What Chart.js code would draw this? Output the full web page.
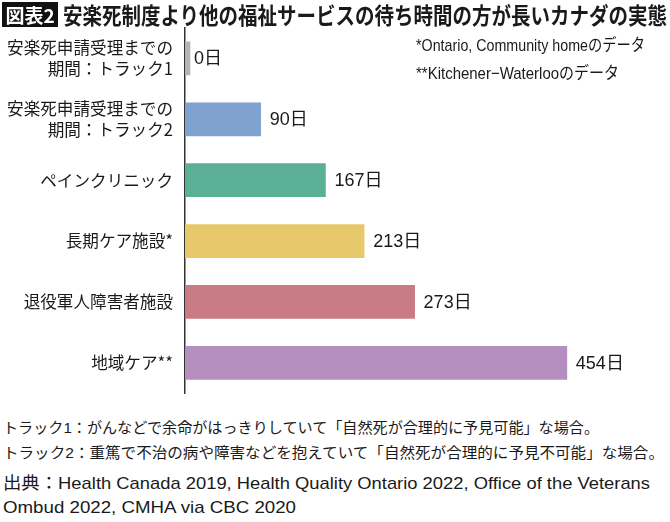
<!DOCTYPE html>
<html lang="ja">
<head>
<meta charset="utf-8">
<script src="https://cdn.jsdelivr.net/npm/chart.js@4.4.1/dist/chart.umd.min.js"></script>
<style>
  html, body { margin: 0; padding: 0; background: #fff; }
  #page { position: relative; width: 670px; height: 522px; overflow: hidden; color: #1a1a1a;
          font-family: "Liberation Sans Narrow", "Liberation Sans", "Noto Sans CJK JP", sans-serif; }
  #chart { position: absolute; left: 0; top: 0; }
  .t { position: absolute; white-space: nowrap; display: inline-block; transform-origin: 0 50%; line-height: 1; }
  #badge { position: absolute; left: 2px; top: 2px; width: 56px; height: 25px; background: #111; color: #fff;
           font-family: "Noto Sans CJK JP", sans-serif; font-weight: 700; font-size: 19px; line-height: 25px; text-align: center; }
  #title { left: 63px; top: 3px; font-family: "Noto Sans CJK JP", sans-serif; font-weight: 700; font-size: 23px; }
  .note { font-size: 17px; }
  .foot { font-size: 15px; }
  .src { font-size: 17px; }
</style>
</head>
<body>
<div id="page">
  <canvas id="chart" width="670" height="418"></canvas>
  <div id="badge">図表2</div>
  <div class="t" id="title" data-w="604">安楽死制度より他の福祉サービスの待ち時間の方が長いカナダの実態</div>
  <div class="t note" style="left:416px;top:37px" data-w="229">*Ontario, Community homeのデータ</div>
  <div class="t note" style="left:416px;top:65px" data-w="203">**Kitchener−Waterlooのデータ</div>
  <div class="t foot" style="left:3px;top:420px" data-w="596">トラック1：がんなどで余命がはっきりしていて「自然死が合理的に予見可能」な場合。</div>
  <div class="t foot" style="left:3px;top:445px" data-w="661">トラック2：重篤で不治の病や障害などを抱えていて「自然死が合理的に予見不可能」な場合。</div>
  <div class="t src" style="left:3px;top:475px" data-w="647">出典：Health Canada 2019, Health Quality Ontario 2022, Office of the Veterans</div>
  <div class="t src" style="left:3px;top:499px" data-w="293">Ombud 2022, CMHA via CBC 2020</div>
</div>
<script>
const categories = [
  ['安楽死申請受理までの', '期間：トラック1'],
  ['安楽死申請受理までの', '期間：トラック2'],
  'ペインクリニック',
  '長期ケア施設*',
  '退役軍人障害者施設',
  '地域ケア**'
];
const waitDays = [0, 90, 167, 213, 273, 454];
const valueSuffix = '日';
const barColors = ['#b5b5b5', '#7fa2cf', '#5caf97', '#e7c96b', '#c87a85', '#b38ebf'];

// fit condensed html text to the widths
document.querySelectorAll('[data-w]').forEach(function (el) {
  const w = el.getBoundingClientRect().width;
  el.style.transform = 'scaleX(' + (parseFloat(el.dataset.w) / w) + ')';
});

const valueLabels = {
  id: 'valueLabels',
  afterDatasetsDraw(chart) {
    const c = chart.ctx;
    const xs = chart.scales.x;
    const meta = chart.getDatasetMeta(0);
    c.save();
    c.font = '18px "Liberation Sans Narrow", "Liberation Sans", "Noto Sans CJK JP", sans-serif';
    c.fillStyle = '#1a1a1a';
    c.textBaseline = 'middle';
    meta.data.forEach(function (bar, i) {
      const v = chart.data.datasets[0].data[i];
      c.fillText(v + valueSuffix, xs.getPixelForValue(v) + 9, bar.y + 1);
    });
    c.restore();
  }
};

new Chart(document.getElementById('chart'), {
  type: 'bar',
  data: {
    labels: categories,
    datasets: [{
      data: waitDays,
      backgroundColor: barColors,
      borderWidth: 0,
      minBarLength: 5,
      barThickness: 33
    }]
  },
  options: {
    indexAxis: 'y',
    responsive: false,
    animation: false,
    layout: { padding: { top: 28, bottom: 6, right: 14 } },
    plugins: { legend: { display: false }, tooltip: { enabled: false } },
    scales: {
      x: { display: false, min: 0, max: 560 },
      y: {
        grid: { display: false },
        border: { display: true, color: '#333', width: 1.5 },
        afterFit: function (scale) { scale.width = 185; },
        ticks: {
          padding: 4,
          color: '#1a1a1a',
          font: { family: '"Noto Sans CJK JP", sans-serif', size: 16.6, lineHeight: 1.25 }
        }
      }
    }
  },
  plugins: [valueLabels]
});
</script>
</body>
</html>
